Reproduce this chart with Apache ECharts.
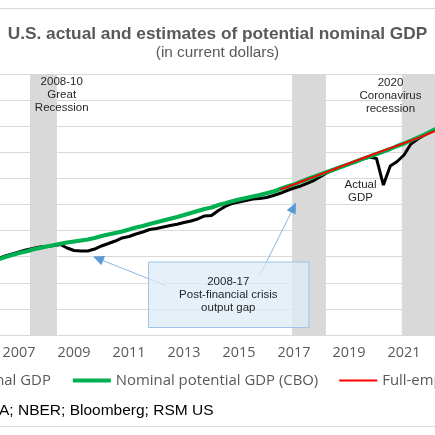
<!DOCTYPE html>
<html><head><meta charset="utf-8">
<script src="https://cdn.jsdelivr.net/npm/echarts@6/dist/echarts.min.js"></script>
<style>html,body{margin:0;padding:0;background:#fff}#c{width:435px;height:435px}</style>
</head><body><div id="c"></div>
<script>
// quarterly data, first point = 2006 Q2 (decimal year 2006.25), billions of current dollars
const firstQuarter = 2006.25;
const actualGDP = [13862, 14054, 14207, 14360, 14513, 14628, 14743, 14782, 14858, 14935,
  14667, 14475, 14437, 14437, 14590, 14820, 15011, 15203, 15433, 15548,
  15739, 15893, 16084, 16161, 16276, 16391, 16483, 16621, 16736, 16889,
  17119, 17157, 17540, 17847, 18077, 18192, 18306, 18421, 18460, 18536,
  18690, 18858, 19073, 19264, 19418, 19647, 19877, 20184, 20490, 20720,
  20912, 21103, 21295, 21487, 21640, 21525, 19494, 20950, 21295, 21793,
  22636, 23019, 23326, 23632, 23862];
const potentialGDP = [13785, 13977, 14130, 14283, 14398, 14552, 14667, 14782, 14874, 14988,
  15088, 15165, 15241, 15318, 15433, 15586, 15701, 15816, 15931, 16084,
  16238, 16352, 16506, 16636, 16774, 16912, 17042, 17195, 17349, 17502,
  17655, 17770, 17962, 18100, 18245, 18383, 18498, 18613, 18728, 18858,
  18996, 19188, 19379, 19533, 19762, 19954, 20146, 20337, 20529, 20720,
  20912, 21103, 21295, 21487, 21678, 21870, 22061, 22253, 22483, 22674,
  22904, 23134, 23364, 23632, 23900];
const fullEmpStart = 2016.5;
const fullEmpGDP = [19150, 19345, 19540, 19740, 19940, 20140, 20340, 20540, 20740, 20940,
  21140, 21340, 21540, 21740, 21940, 22130, 22320, 22510, 22700, 22890,
  23090, 23300, 23520, 23740];
const recessionBands = [[2007.40, 2008.38], [2016.93, 2018.16], [2020.92, 2022.127]];
const yearLabels = [2007, 2009, 2011, 2013, 2015, 2017, 2019, 2021];
const seriesNames = ['Nominal GDP', 'Nominal potential GDP (CBO)', 'Full-employment GDP'];
const seriesColors = ['#000000', '#00B050', '#FF0000'];
const seriesWidths = [3, 4, 2];

function toPairs(start, arr) { return arr.map((v, i) => [start + i * 0.25, v]); }

const chart = echarts.init(document.getElementById('c'));
const annoFont = '"Liberation Sans", Arial, sans-serif';
function txt(x, y, s) {
  return { type: 'text', x: x, y: y, z: 50,
    style: { text: s, fill: '#262626', font: '11.5px ' + annoFont, textAlign: 'center', textVerticalAlign: 'middle' } };
}
chart.setOption({
  animation: false,
  backgroundColor: '#fff',
  title: [
    { text: 'U.S. actual and estimates of potential nominal GDP', left: 'center', top: 25.4, padding: 0,
      textStyle: { fontFamily: annoFont, fontSize: 17.3, fontWeight: 'bold', color: '#595959' } },
    { text: '(in current dollars)', left: 'center', top: 45.5, padding: 0,
      textStyle: { fontFamily: annoFont, fontSize: 15.3, fontWeight: 'normal', color: '#595959' } }
  ],
  legend: {
    data: seriesNames.map((n, i) => ({ name: n, lineStyle: { width: seriesWidths[i], color: seriesColors[i] } })),
    left: -87, top: 373, width: 900, itemGap: 20, itemWidth: 38, itemHeight: 14, padding: 0,
    itemStyle: { opacity: 0 },
    textStyle: { fontFamily: '"Open Sans", sans-serif', fontSize: 14.9, color: '#595959' }
  },
  grid: { left: 0, top: 74, width: 435, height: 261, containLabel: false, outerBoundsMode: 'none' },
  xAxis: {
    type: 'value', min: 2006.309, max: 2022.127,
    axisLine: { show: false }, axisTick: { show: false }, splitLine: { show: false },
    axisLabel: { margin: 11, color: '#595959', fontFamily: '"Open Sans", sans-serif', fontSize: 14.4,
      customValues: yearLabels, formatter: v => String(v) }
  },
  yAxis: {
    type: 'value', min: 8000, max: 28000, interval: 2000,
    axisLine: { show: false }, axisTick: { show: false }, axisLabel: { show: false },
    splitLine: { lineStyle: { color: '#D9D9D9', width: 1 } }
  },
  series: [
    { type: 'line', name: 'bands', data: [], silent: true, z: 1,
      markArea: { silent: true, itemStyle: { color: '#D9D9D9' },
        data: recessionBands.map(b => [{ xAxis: b[0], yAxis: 8000 }, { xAxis: b[1], yAxis: 28000 }]) } },
    { type: 'line', name: seriesNames[0], data: toPairs(firstQuarter, actualGDP), symbol: 'none', z: 3,
      lineStyle: { color: seriesColors[0], width: seriesWidths[0] }, itemStyle: { color: seriesColors[0] } },
    { type: 'line', name: seriesNames[1], data: toPairs(firstQuarter, potentialGDP), symbol: 'none', z: 4,
      lineStyle: { color: seriesColors[1], width: seriesWidths[1] }, itemStyle: { color: seriesColors[1] } },
    { type: 'line', name: seriesNames[2], data: toPairs(fullEmpStart, fullEmpGDP), symbol: 'none', z: 5,
      lineStyle: { color: seriesColors[2], width: seriesWidths[2] }, itemStyle: { color: seriesColors[2] } }
  ],
  graphic: [
    { type: 'line', z: 1, shape: { x1: -5, y1: 8.5, x2: 440, y2: 8.5 }, style: { stroke: '#D9D9D9', lineWidth: 1 } },
    { type: 'line', z: 1, shape: { x1: -5, y1: 426.5, x2: 440, y2: 426.5 }, style: { stroke: '#D9D9D9', lineWidth: 1 } },
    { type: 'line', z: 40, shape: { x1: 167, y1: 286, x2: 103, y2: 260.6 }, style: { stroke: '#8AB4E0', lineWidth: 1 } },
    { type: 'polygon', z: 40, shape: { points: [[93, 256.5], [105, 255.9], [101.4, 265.2]] }, style: { fill: '#5B9BD5' } },
    { type: 'line', z: 40, shape: { x1: 260, y1: 275, x2: 291.2, y2: 212.4 }, style: { stroke: '#8AB4E0', lineWidth: 1 } },
    { type: 'polygon', z: 40, shape: { points: [[296, 202.5], [295.7, 214.6], [286.7, 210.2]] }, style: { fill: '#5B9BD5' } },
    { type: 'rect', z: 45, shape: { x: 148.5, y: 262, width: 160.5, height: 65.5 },
      style: { fill: 'rgba(222,235,247,0.75)', stroke: '#9DC3E6', lineWidth: 1 } },
    txt(228.3, 282, '2008-17'),
    txt(228.3, 295, 'Post-financial crisis'),
    txt(228.3, 308, 'output gap'),
    txt(61.7, 82, '2008-10'),
    txt(61.7, 95, 'Great'),
    txt(61.7, 108, 'Recession'),
    txt(390.5, 83, '2020'),
    txt(390.5, 96, 'Coronavirus'),
    txt(390.5, 109, 'recession'),
    txt(360.5, 185, 'Actual'),
    txt(360.5, 198, 'GDP'),
    { type: 'text', x: 213.5, y: 411, z: 50,
      style: { text: 'Source: BEA; NBER; Bloomberg; RSM US', fill: '#000', font: '15.5px ' + annoFont,
        textAlign: 'right', textVerticalAlign: 'middle' } }
  ]
});
</script></body></html>
